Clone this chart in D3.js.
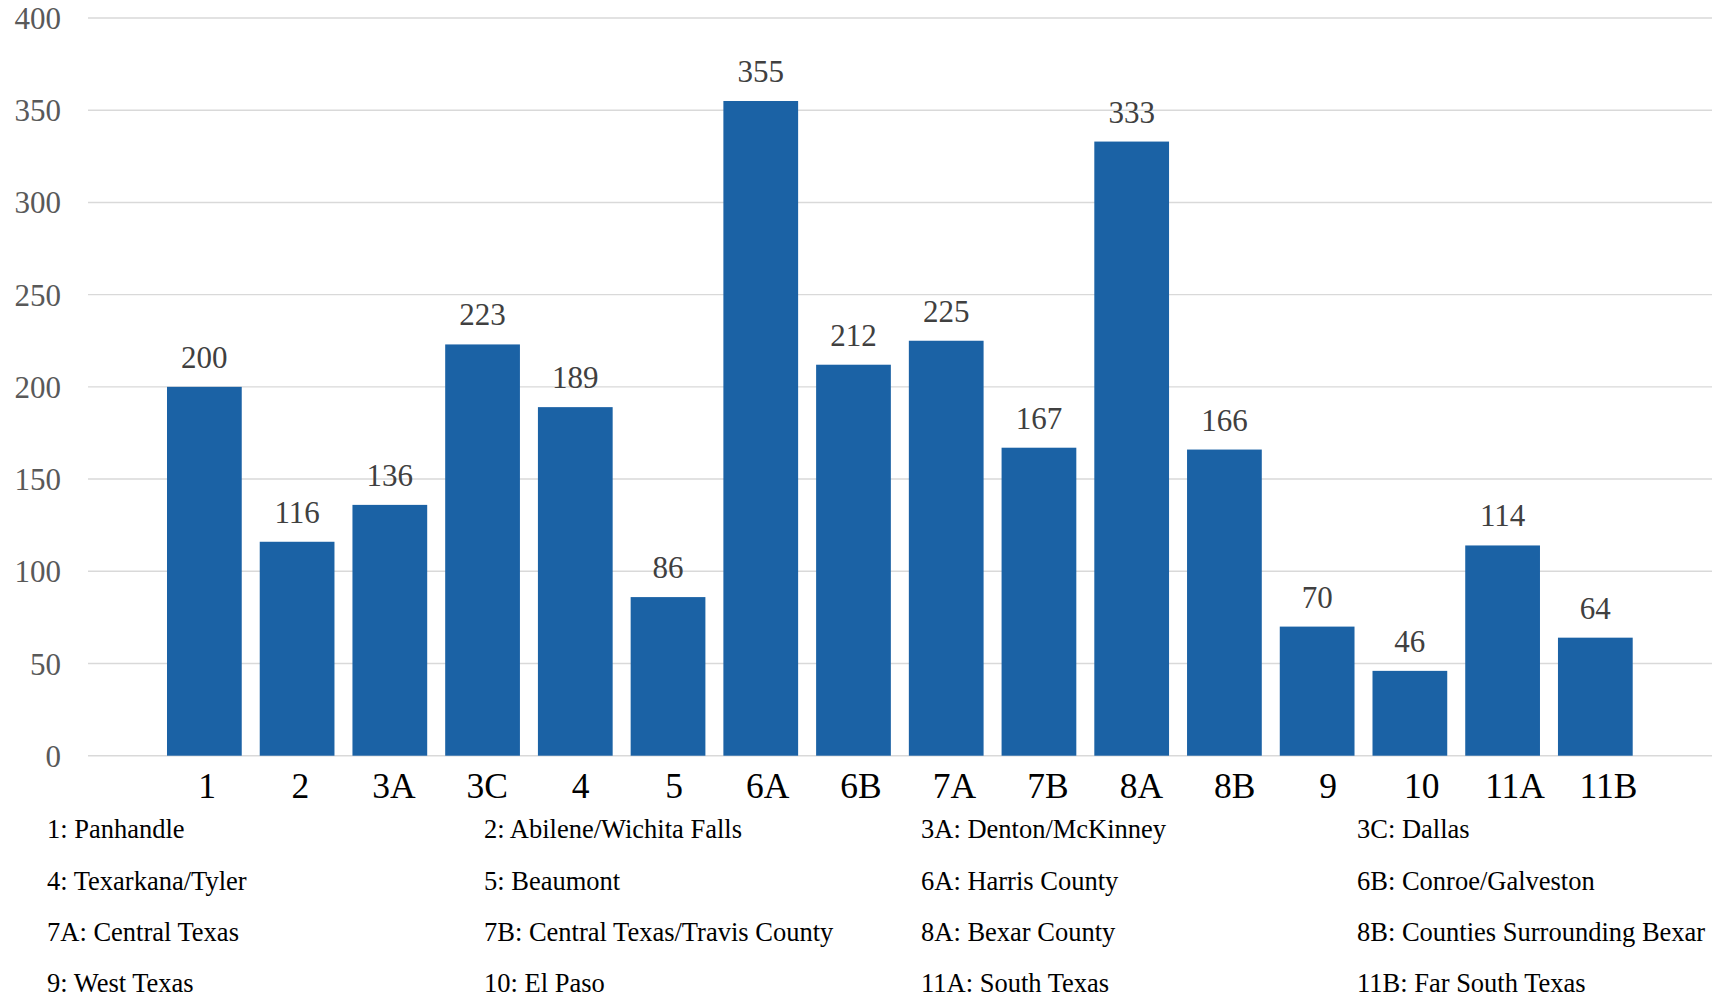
<!DOCTYPE html>
<html>
<head>
<meta charset="utf-8">
<script src="https://cdn.jsdelivr.net/npm/d3@7"></script>
<style>
  html, body { margin: 0; padding: 0; background: #fff; }
  svg { display: block; font-family: "Liberation Serif", "Times New Roman", serif; }
</style>
</head>
<body>
<svg id="chart" width="1725" height="997"></svg>
<script>
// Regions and their counts
const regions = ["1", "2", "3A", "3C", "4", "5", "6A", "6B", "7A", "7B", "8A", "8B", "9", "10", "11A", "11B"];
const counts = [200, 116, 136, 223, 189, 86, 355, 212, 225, 167, 333, 166, 70, 46, 114, 64];
const yTicks = [0, 50, 100, 150, 200, 250, 300, 350, 400];

// Key listing each region's name, laid out in four columns
const regionNames = [
  "1: Panhandle", "2: Abilene/Wichita Falls", "3A: Denton/McKinney", "3C: Dallas",
  "4: Texarkana/Tyler", "5: Beaumont", "6A: Harris County", "6B: Conroe/Galveston",
  "7A: Central Texas", "7B: Central Texas/Travis County", "8A: Bexar County", "8B: Counties Surrounding Bexar",
  "9: West Texas", "10: El Paso", "11A: South Texas", "11B: Far South Texas"
];

const svg = d3.select("#chart");

const gridLeft = 88, gridRight = 1712;
const y = d3.scaleLinear().domain([0, 400]).range([755.7, 18]);
const x = d3.scaleBand()
  .domain(regions)
  .range([158, 1641.7])
  .paddingInner(0.194)
  .paddingOuter(0.097);
// Category labels are spaced on their own slightly wider point scale
const xLabel = d3.scalePoint()
  .domain(regions)
  .range([206.5, 1608]);

// Horizontal gridlines
svg.append("g")
  .selectAll("line")
  .data(yTicks)
  .join("line")
  .attr("x1", gridLeft)
  .attr("x2", gridRight)
  .attr("y1", d => y(d))
  .attr("y2", d => y(d))
  .attr("stroke", "#d9d9d9")
  .attr("stroke-width", 1.4);

// Y axis labels
const yAxis = d3.axisLeft(y).tickValues(yTicks).tickSize(0).tickPadding(0);
svg.append("g")
  .attr("transform", "translate(61,0)")
  .call(yAxis)
  .call(g => g.select(".domain").remove())
  .call(g => g.selectAll("text")
    .attr("font-family", "Liberation Serif, Times New Roman, serif")
    .attr("font-size", 31)
    .attr("fill", "#595959")
    .attr("dy", "0.34em"));

// Bars
svg.append("g")
  .selectAll("rect")
  .data(regions.map((r, i) => ({ r, v: counts[i] })))
  .join("rect")
  .attr("x", d => x(d.r))
  .attr("width", x.bandwidth())
  .attr("y", d => y(d.v))
  .attr("height", d => y(0) - y(d.v))
  .attr("fill", "#1b62a5");

// Value labels above bars
svg.append("g")
  .selectAll("text")
  .data(regions.map((r, i) => ({ r, v: counts[i] })))
  .join("text")
  .attr("x", d => x(d.r) + x.bandwidth() / 2)
  .attr("y", d => y(d.v) - 19)
  .attr("text-anchor", "middle")
  .attr("font-size", 31)
  .attr("fill", "#404040")
  .text(d => d.v);

// X axis labels
const xAxis = d3.axisBottom(xLabel).tickSize(0).tickPadding(0);
svg.append("g")
  .attr("transform", "translate(0,755.7)")
  .call(xAxis)
  .call(g => g.select(".domain").remove())
  .call(g => g.selectAll("text")
    .attr("font-family", "Liberation Serif, Times New Roman, serif")
    .attr("font-size", 35.5)
    .attr("fill", "#000")
    .attr("dy", null)
    .attr("y", 42.5));

// Region key
const colX = [47, 484, 921, 1357];
const rowY = [838, 890, 941, 992];
svg.append("g")
  .selectAll("text")
  .data(regionNames)
  .join("text")
  .attr("x", (d, i) => colX[i % 4])
  .attr("y", (d, i) => rowY[Math.floor(i / 4)])
  .attr("font-size", 26.5)
  .attr("fill", "#000")
  .text(d => d);
</script>
</body>
</html>
